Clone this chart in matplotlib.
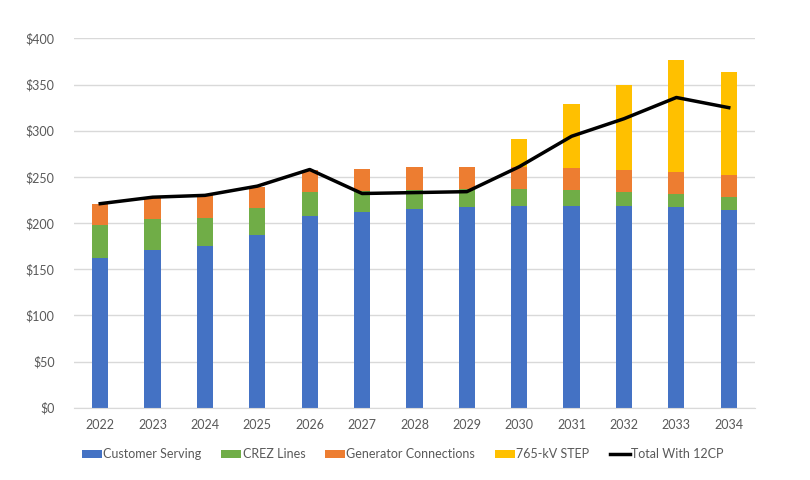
import matplotlib
matplotlib.use("Agg")
import matplotlib.pyplot as plt
import numpy as np

years = ["2022", "2023", "2024", "2025", "2026", "2027", "2028",
         "2029", "2030", "2031", "2032", "2033", "2034"]
# cumulative tops
customer_serving = [162, 171, 175, 187, 208, 212, 215, 217, 219, 219, 218, 217, 214]
crez_top = [198, 204, 206, 216, 234, 235, 236, 237, 237, 236, 234, 232, 228]
gen_top = [221, 228, 230, 239, 258, 259, 261, 261, 261, 260, 258, 255, 252]
step_top = [221, 228, 230, 239, 258, 259, 261, 261, 291, 329, 350, 377, 364]
total_12cp = [221, 228, 230, 240, 258, 232, 233, 234, 261, 294, 313, 336, 325]

crez = [c - b for c, b in zip(crez_top, customer_serving)]
gen = [g - c for g, c in zip(gen_top, crez_top)]
step = [s - g for s, g in zip(step_top, gen_top)]

plt.rcParams['font.family'] = ['Lato', 'DejaVu Sans']
txt = '#595959'

fig = plt.figure(figsize=(8.1, 4.8), dpi=100)
ax = fig.add_axes([0.0914, 0.1506, 0.8406, 0.7694])

x = np.arange(len(years))
w = 0.31
b1 = ax.bar(x, customer_serving, w, color='#4472C4', label='Customer Serving', zorder=2)
b2 = ax.bar(x, crez, w, bottom=customer_serving, color='#70AD47', label='CREZ Lines', zorder=2)
b3 = ax.bar(x, gen, w, bottom=crez_top, color='#ED7D31', label='Generator Connections', zorder=2)
b4 = ax.bar(x, step, w, bottom=gen_top, color='#FFC000', label='765-kV STEP', zorder=2)
ln, = ax.plot(x, total_12cp, color='black', lw=2.5, label='Total With 12CP', zorder=3)

ax.set_xlim(-0.5, len(years) - 0.5)
ax.set_ylim(0, 400)
ax.set_yticks(range(0, 401, 50))
ax.set_yticklabels([f"${v}" for v in range(0, 401, 50)])
ax.set_xticks(x)
ax.set_xticklabels(years)
ax.yaxis.grid(True, color='#D9D9D9', lw=1, zorder=0)
for s in ['top', 'right', 'left']:
    ax.spines[s].set_visible(False)
ax.spines['bottom'].set_color('#D9D9D9')
ax.tick_params(axis='both', length=0, colors=txt, labelsize=9)
ax.tick_params(axis='x', pad=8)
ax.tick_params(axis='y', pad=14)

leg = fig.legend(handles=[b1, b2, b3, b4, ln], loc='center', bbox_to_anchor=(0.497, 0.054),
                 ncol=5, frameon=False, fontsize=9, handlelength=1.6, handleheight=0.6,
                 handletextpad=0.1, columnspacing=1.6)
for t in leg.get_texts():
    t.set_color(txt)

fig.savefig("out.png", dpi=100)
